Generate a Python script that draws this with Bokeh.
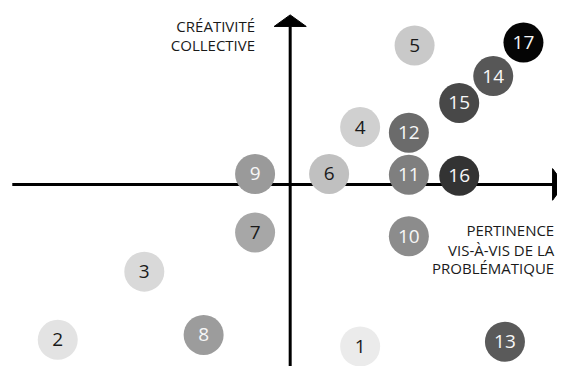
from bokeh.plotting import figure
from bokeh.models import ColumnDataSource, Range1d
from bokeh.core.properties import value
from bokeh.embed import file_html
from bokeh.resources import INLINE

# ---- data ----
labels = [str(i) for i in range(1, 18)]
pertinence = [2.57, -8.54, -5.36, 2.57, 4.57, 1.43, -1.29, -3.18, -1.29,
              4.36, 4.36, 4.36, 7.89, 7.46, 6.21, 6.21, 8.57]
creativite = [-6.04, -5.79, -3.25, 2.14, 5.18, 0.39, -1.79, -5.61, 0.39,
              -1.93, 0.36, 1.93, -5.86, 4.04, 3.04, 0.32, 5.29]
fill_colors = ["#ebebeb", "#e3e3e3", "#d9d9d9", "#d0d0d0", "#c9c9c9", "#c0c0c0",
               "#a7a7a7", "#9c9c9c", "#9a9a9a", "#8c8c8c", "#7f7f7f", "#6b6b6b",
               "#5a5a5a", "#575757", "#484848", "#333333", "#050505"]
text_colors = ["#1a1a1a"] * 7 + ["#f7f7f7"] * 10

y_title = ["CRÉATIVITÉ", "COLLECTIVE"]
x_title = ["PERTINENCE", "VIS-À-VIS DE LA", "PROBLÉMATIQUE"]

# ---- layout ----
W, H = 557, 366

p = figure(width=W, height=H, output_backend="svg", toolbar_location=None,
           x_range=Range1d(-10.643, 9.821),
           y_range=Range1d(-6.786, 6.857),
           x_axis_location=None, y_axis_location=None,
           min_border=0, background_fill_color="white",
           border_fill_color="white")
p.outline_line_color = None
p.grid.visible = False

# axes lines
x_start = -10.21
y_top = 5.89
p.line([x_start, 11], [0, 0], line_color="black", line_width=3)
p.line([0, 0], [-8, y_top], line_color="black", line_width=3)
# arrow heads
hw = 0.59
hl = 0.43
p.patch([-hw, hw, 0], [y_top, y_top, y_top + hl], fill_color="black", line_color="black")
p.patch([9.64, 9.64, 9.64 + hl], [-hw, hw, 0], fill_color="black", line_color="black")

# axis titles
p.text(x=[-1.29, -1.29], y=[5.89, 5.18], text=y_title,
       text_font=value("Open Sans"), text_font_size="15px",
       text_align="right", text_baseline="middle", text_color="#1a1a1a")
p.text(x=[9.70] * 3, y=[-1.71, -2.43, -3.11], text=x_title,
       text_font=value("Open Sans"), text_font_size="15px",
       text_align="right", text_baseline="middle", text_color="#1a1a1a")

# bubbles
src = ColumnDataSource(dict(x=pertinence, y=creativite, label=labels,
                            fill=fill_colors, tcol=text_colors))
p.scatter("x", "y", source=src, size=40, fill_color="fill", line_color=None)
p.text("x", "y", text="label", source=src, text_font=value("Open Sans"),
       text_font_size="19px", text_align="center", text_baseline="middle",
       text_color="tcol")

open("out.html", "w").write(file_html(p, INLINE))
